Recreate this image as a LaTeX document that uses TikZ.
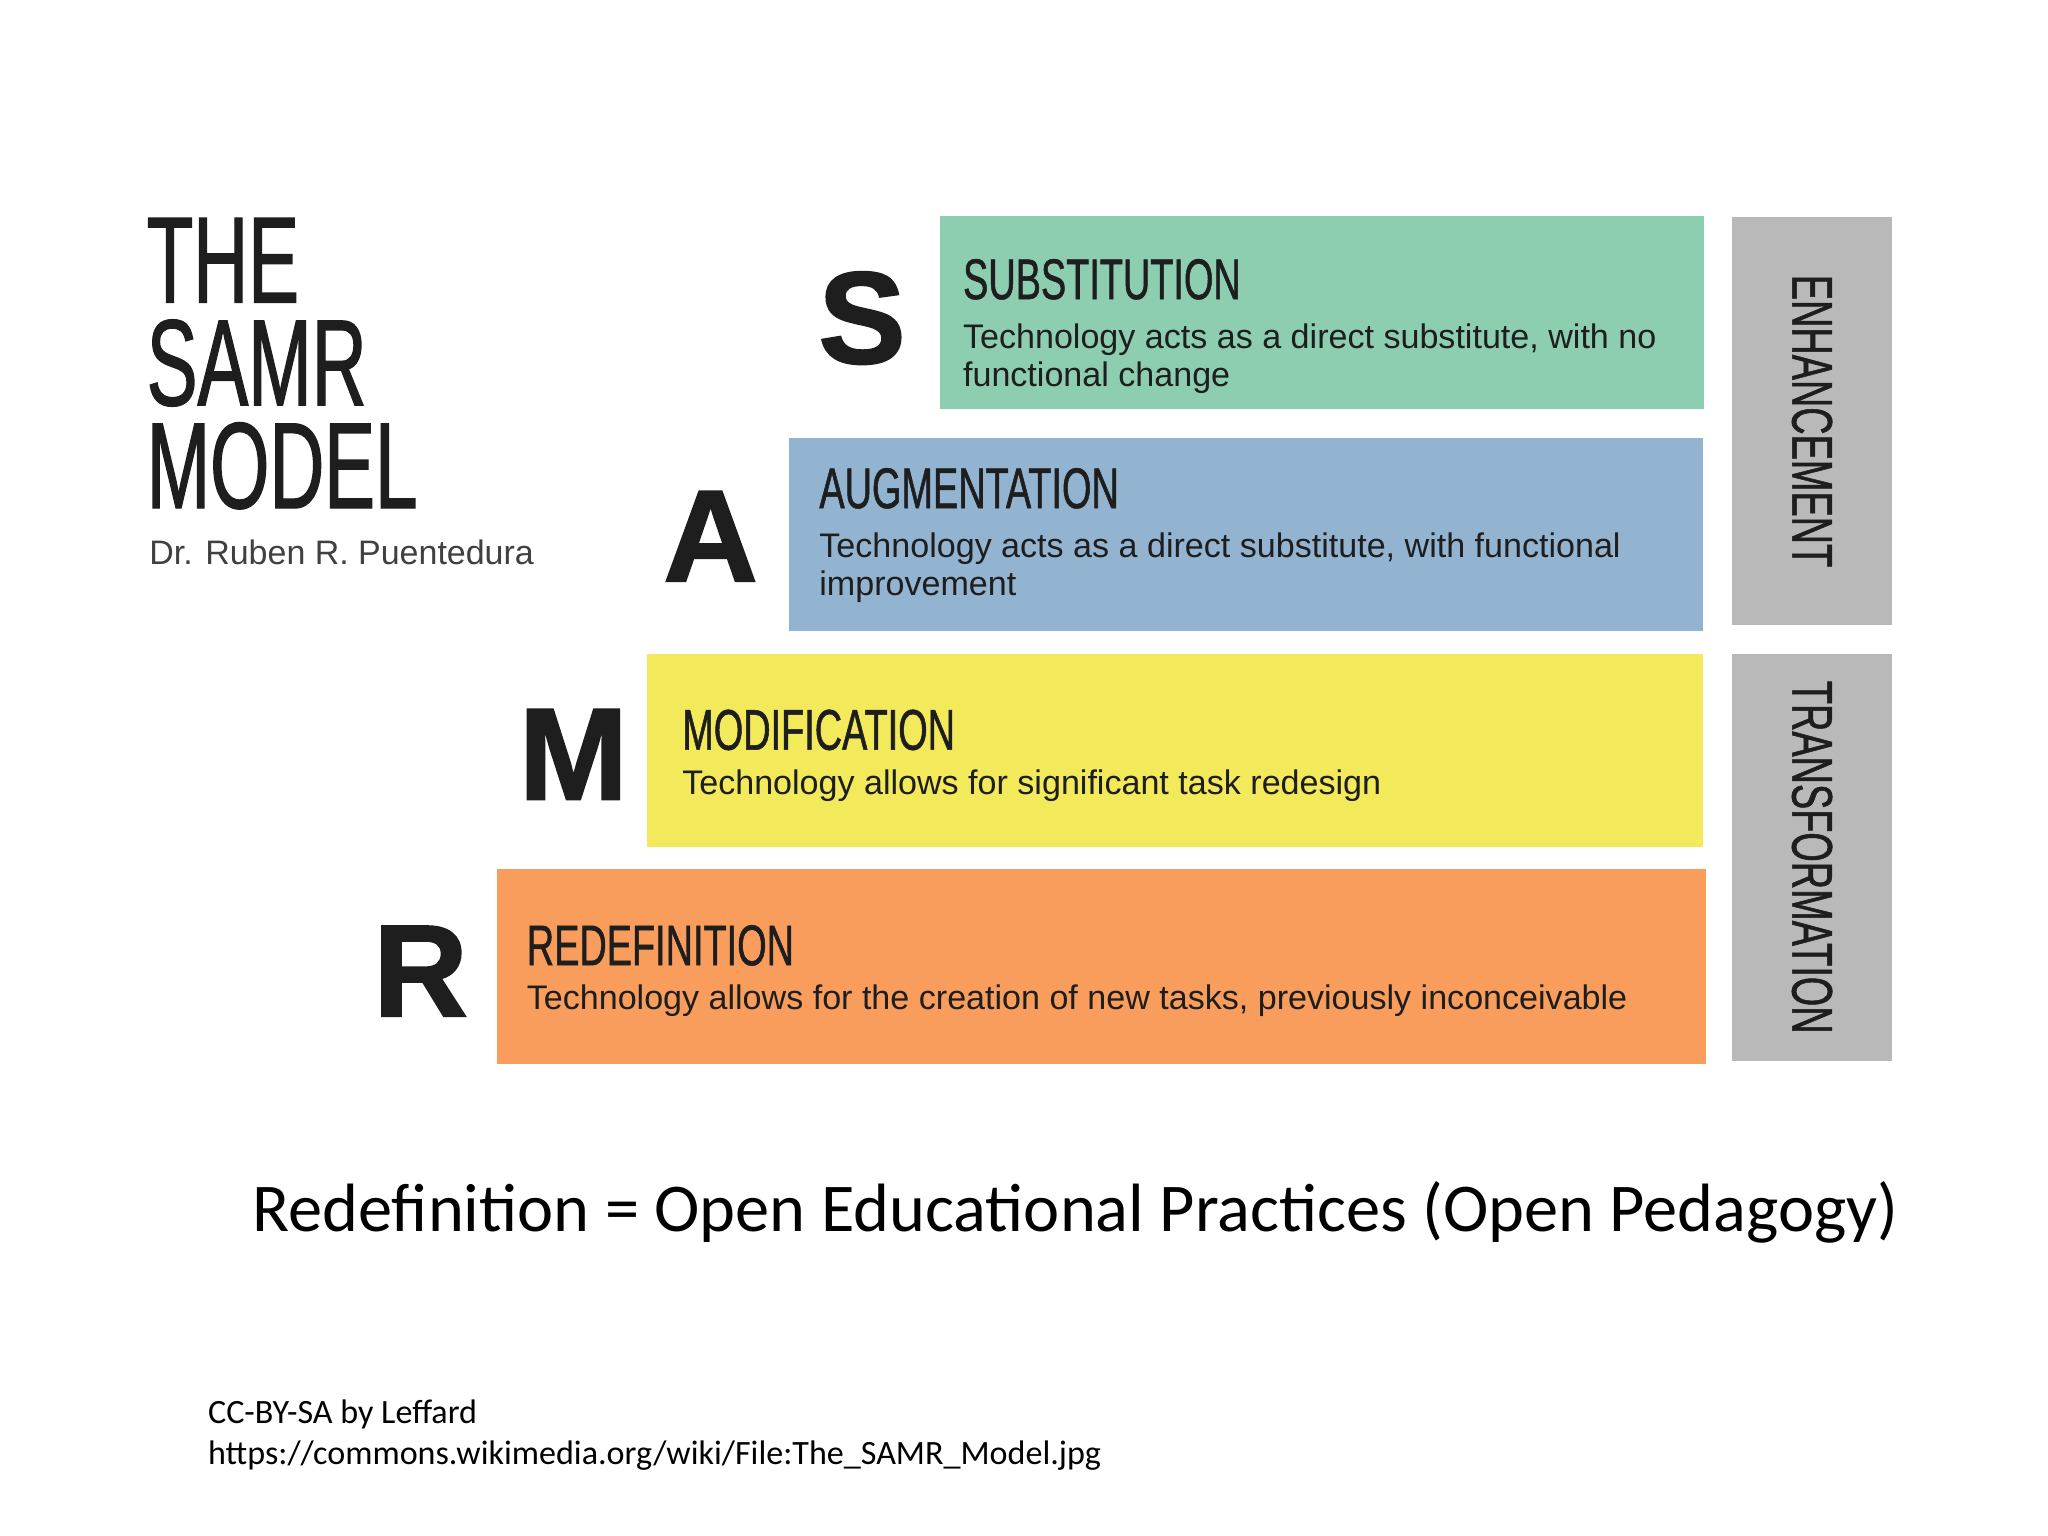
\documentclass[tikz,border=0pt]{standalone}
\usepackage{fontspec}
\setmainfont{Liberation Sans}
\newfontfamily\narrowfont[FakeStretch=0.66,FakeBold=0.9]{Liberation Sans}
\newfontfamily\titlefont[FakeStretch=0.62,FakeBold=1]{Liberation Sans}
\newfontfamily\heavyfont[FakeBold=1.5]{Liberation Sans Bold}
\newfontfamily\slidefont{Carlito}
\definecolor{sgreen}{HTML}{8DCDB0}
\definecolor{ablue}{HTML}{93B4D0}
\definecolor{myellow}{HTML}{F2E95B}
\definecolor{rorange}{HTML}{F99D5D}
\definecolor{sidegray}{HTML}{B9B9B9}
\definecolor{ink}{HTML}{1E1E1E}

\begin{document}
\begin{tikzpicture}[x=0.02cm,y=-0.02cm,
  lvlbox/.style={inner sep=0,anchor=north west,minimum height=2.96cm},
  sidebox/.style={fill=sidegray,inner sep=0,anchor=north west,minimum width=2.44cm,minimum height=6.24cm},
  bigletter/.style={inner sep=0,anchor=base,text=ink,font=\heavyfont\fontsize{57}{57}\selectfont},
  lvltitle/.style={inner sep=0,anchor=base west,text=ink,font=\narrowfont\fontsize{25}{25}\selectfont},
  lvltext/.style={inner sep=0,anchor=base west,text=ink,align=left,font=\fontsize{14.85}{16.7}\selectfont},
  sidetitle/.style={rotate=-90,inner sep=0,text=ink,font=\narrowfont\fontsize{25}{25}\selectfont}]
  \useasboundingbox[fill=white] (0,0) rectangle (1568,1176);
  % title block (base = last line)
  \node[inner sep=0,anchor=base west,text=ink,align=left,font=\titlefont\fontsize{53.5}{44.8}\selectfont] (title) at (112,389) {THE\\SAMR\\MODEL};
  \node[inner sep=0,anchor=base west,text=ink!85,font=\fontsize{14.8}{16}\selectfont] (author) at (114,432) {Dr. Ruben R. Puentedura};
  % levels
  \node[lvlbox,fill=sgreen,minimum width=11.70cm] (sbox) at (719,165) {};
  \node[lvlbox,fill=ablue,minimum width=14.00cm] (abox) at (604,335) {};
  \node[lvlbox,fill=myellow,minimum width=16.18cm] (mbox) at (495,500) {};
  \node[lvlbox,fill=rorange,minimum width=18.52cm,minimum height=2.98cm] (rbox) at (380,665) {};
  \node[bigletter] (sl) at (660,278) {S}; \node[bigletter] (al) at (544,445) {A};
  \node[bigletter] (ml) at (439,612) {M}; \node[bigletter] (rl) at (322,778) {R};
  \node[lvltitle] (st) at (737,229) {SUBSTITUTION};
  \node[lvltext] (sd) at (737,296) {Technology acts as a direct substitute, with no\\functional change};
  \node[lvltitle] (at) at (627,389) {AUGMENTATION};
  \node[lvltext] (ad) at (627,456) {Technology acts as a direct substitute, with functional\\improvement};
  \node[lvltitle] (mt) at (522,574) {MODIFICATION};
  \node[lvltext] (md) at (522,608) {Technology allows for significant task redesign};
  \node[lvltitle] (rt) at (403,739) {REDEFINITION};
  \node[lvltext] (rd) at (403,773) {Technology allows for the creation of new tasks, previously inconceivable};
  % side bars
  \node[sidebox] (enh) at (1326,166) {}; \node[sidebox] (trf) at (1326,500) {};
  \node[sidetitle] at (enh.center) {ENHANCEMENT}; \node[sidetitle] at (trf.center) {TRANSFORMATION};
  % slide text
  \node[inner sep=0,anchor=base west,font=\slidefont\fontsize{29.8}{30}\selectfont] (caption) at (193,943) {Redefinition = Open Educational Practices (Open Pedagogy)};
  \node[inner sep=0,anchor=base west,align=left,font=\slidefont\fontsize{14.85}{17.6}\selectfont] (credit) at (159,1121) {CC-BY-SA by Leffard\\https://commons.wikimedia.org/wiki/File:The\_SAMR\_Model.jpg};
\end{tikzpicture}
\end{document}
